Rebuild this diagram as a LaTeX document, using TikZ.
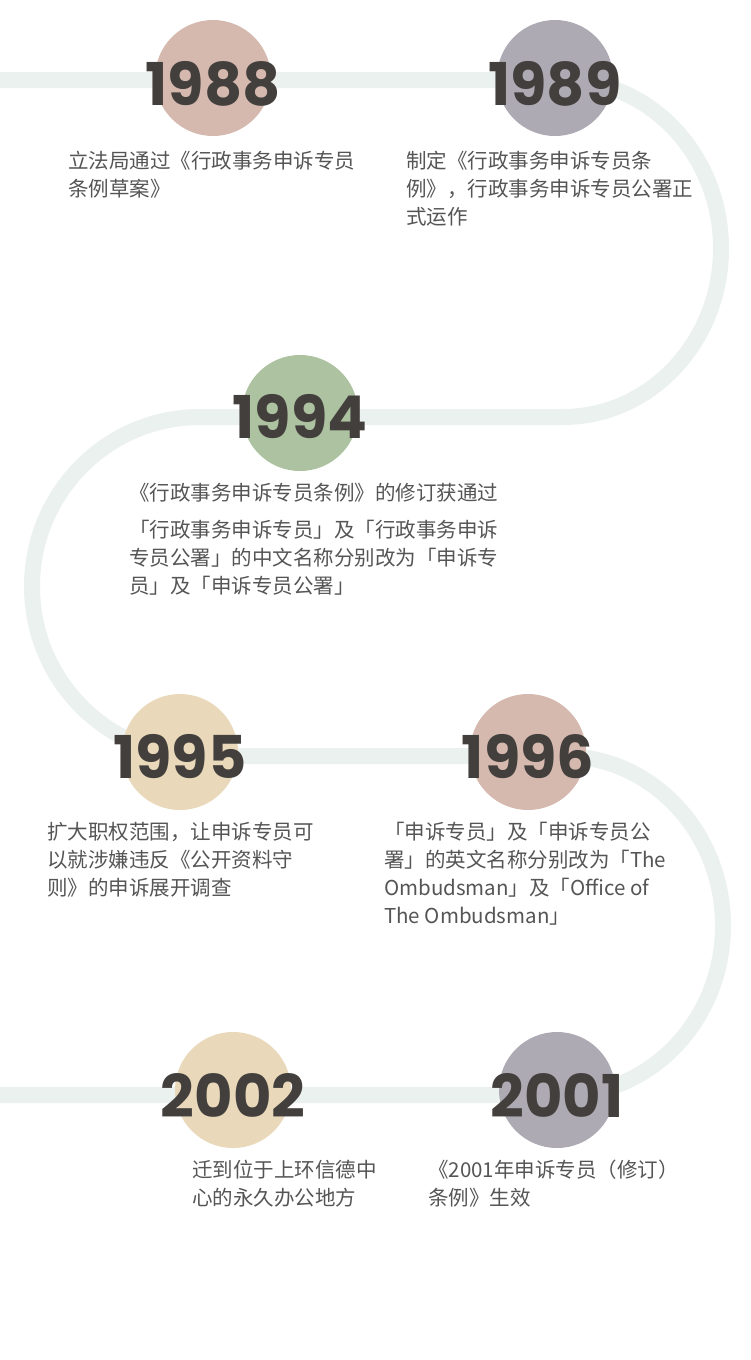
\documentclass[tikz,border=0pt]{standalone}
\usepackage{fontspec}
\usepackage{xcolor}
\usepackage{tikz}
\newfontfamily\yearfont{Poppins}
\newfontfamily\cjk{Noto Sans CJK SC}
\definecolor{omrose}{HTML}{D5B9AF}
\definecolor{omgrey}{HTML}{ADAAB3}
\definecolor{omsage}{HTML}{ADC2A0}
\definecolor{omsand}{HTML}{E9D9BA}
\definecolor{omtrack}{HTML}{EBF1EF}
\definecolor{omink}{HTML}{433F3D}
\definecolor{omtext}{HTML}{555555}

\begin{document}
\begin{tikzpicture}[x=1pt,y=-1pt,
  ball/.style={circle,minimum size=116pt,inner sep=0pt},
  yr/.style={font=\yearfont\bfseries\fontsize{59}{59}\selectfont,text=omink,inner sep=0pt},
  note/.style={font=\cjk\fontsize{20.5}{28}\selectfont,text=omtext,align=left,inner sep=0pt,anchor=base west}]
  \fill[white] (0,0) rectangle (750,1360);
  \useasboundingbox (0,0) rectangle (750,1360);
  \draw[omtrack,line width=16pt] (0,80) -- (563,80)
    arc[start angle=-90,end angle=90,x radius=158,y radius=168.5] -- (200,417)
    arc[start angle=-90,end angle=-270,x radius=168,y radius=169.5] -- (563,756)
    arc[start angle=-90,end angle=90,x radius=160,y radius=169.5] -- (0,1095);

  \node[ball,fill=omrose] (c1988) at (213,78) {};
  \node[ball,fill=omgrey] (c1989) at (555,78) {};
  \node[ball,fill=omsage] (c1994) at (300,413) {};
  \node[ball,fill=omsand] (c1995) at (180,752) {};
  \node[ball,fill=omrose] (c1996) at (528,752) {};
  \node[ball,fill=omsand] (c2002) at (233,1090) {};
  \node[ball,fill=omgrey] (c2001) at (557,1090) {};

  \node[yr] (y1988) at ([yshift=-6pt]c1988.center) {1988};
  \node[yr] (y1989) at ([yshift=-6pt]c1989.center) {1989};
  \node[yr] (y1994) at ([yshift=-4pt]c1994.center) {1994};
  \node[yr] (y1995) at ([yshift=-5pt]c1995.center) {1995};
  \node[yr] (y1996) at ([yshift=-5pt]c1996.center) {1996};
  \node[yr] (y2002) at ([yshift=-5pt]c2002.center) {2002};
  \node[yr] (y2001) at ([yshift=-5pt]c2001.center) {2001};

  \node[note] (n1988) at (68,196.6) {立法局通过《行政事务申诉专员\\条例草案》};
  \node[note] (n1989) at (406,224.6) {制定《行政事务申诉专员条\\例》，行政事务申诉专员公署正\\式运作};
  \node[note] (n1994a) at (129,500.6) {《行政事务申诉专员条例》的修订获通过};
  \node[note] (n1994b) at (129,593.6) {「行政事务申诉专员」及「行政事务申诉\\专员公署」的中文名称分别改为「申诉专\\员」及「申诉专员公署」};
  \node[note] (n1995) at (47,895.6) {扩大职权范围，让申诉专员可\\以就涉嫌违反《公开资料守\\则》的申诉展开调查};
  \node[note] (n1996) at (384,923.6) {「申诉专员」及「申诉专员公\\署」的英文名称分别改为「The\\Ombudsman」及「Office of\\The Ombudsman」};
  \node[note] (n2002) at (192,1205.6) {迁到位于上环信德中\\心的永久办公地方};
  \node[note] (n2001) at (428,1205.6) {《2001年申诉专员（修订）\\条例》生效};
\end{tikzpicture}
\end{document}
